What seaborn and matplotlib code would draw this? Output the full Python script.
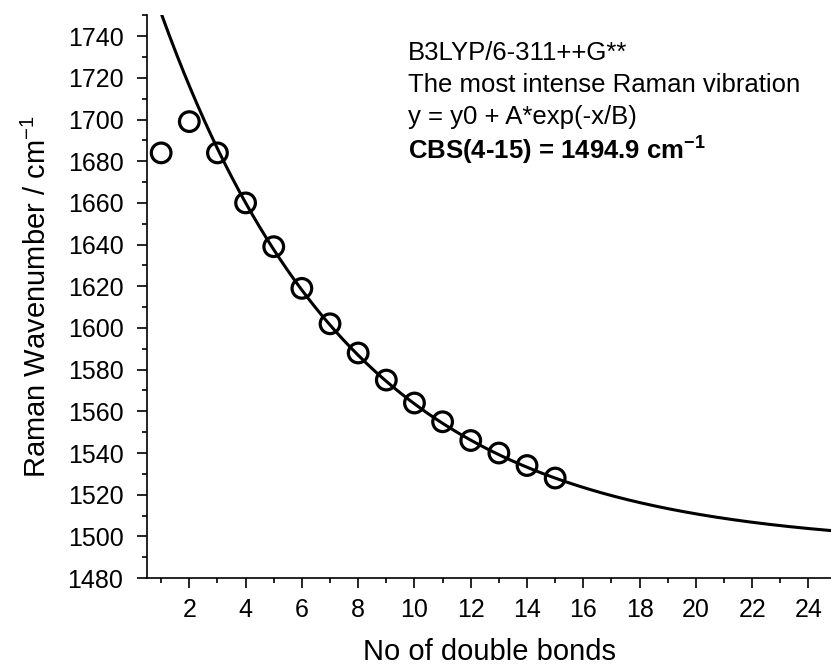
import numpy as np
import pandas as pd
import matplotlib
matplotlib.use("Agg")
import matplotlib.pyplot as plt
import seaborn as sns
from matplotlib.ticker import MultipleLocator

# Data
n_double_bonds = [1, 2, 3, 4, 5, 6, 7, 8, 9, 10, 11, 12, 13, 14, 15]
raman_wavenumber = [1684, 1699, 1684, 1660, 1639, 1619, 1602, 1588, 1575,
                    1564, 1555, 1546, 1540, 1534, 1528]

# Exponential fit parameters (y = y0 + A*exp(-x/B)), fit on points 4-15
fit_y0 = 1494.9
fit_A = 296.4
fit_B = 6.84
fit_x = np.linspace(0.5, 25, 400)
fit_y = fit_y0 + fit_A * np.exp(-fit_x / fit_B)

annot_lines = ["B3LYP/6-311++G**",
               "The most intense Raman vibration",
               "y = y0 + A*exp(-x/B)"]
annot_bold = r"CBS(4-15) = 1494.9 cm$^{\mathregular{-1}}$"

sns.set_theme(style="ticks")
plt.rcParams["font.family"] = ["Liberation Sans", "DejaVu Sans"]
plt.rcParams["mathtext.fontset"] = "custom"
plt.rcParams["mathtext.rm"] = "Liberation Sans"
plt.rcParams["mathtext.bf"] = "Liberation Sans:bold"
plt.rcParams["text.color"] = "black"
plt.rcParams["axes.labelcolor"] = "black"
plt.rcParams["xtick.color"] = "black"
plt.rcParams["ytick.color"] = "black"

fig = plt.figure(figsize=(8.31, 6.66), dpi=100)
ax = fig.add_axes([0.177, 0.132, 0.823, 0.845])

df_pts = pd.DataFrame({"x": n_double_bonds, "y": raman_wavenumber})
df_fit = pd.DataFrame({"x": fit_x, "y": fit_y})

sns.lineplot(data=df_fit, x="x", y="y", ax=ax, color="black", linewidth=2.2,
             zorder=2)
sns.scatterplot(data=df_pts, x="x", y="y", ax=ax, s=200, marker="o",
                facecolor="none", edgecolor="black", linewidth=2.3, zorder=3)

ax.set_xlim(0.5, 24.8)
ax.set_ylim(1480, 1750)
ax.xaxis.set_major_locator(MultipleLocator(2))
ax.xaxis.set_minor_locator(MultipleLocator(1))
ax.yaxis.set_major_locator(MultipleLocator(20))
ax.yaxis.set_minor_locator(MultipleLocator(10))
ax.set_xticks(np.arange(2, 25, 2))
ax.set_yticks(np.arange(1480, 1741, 20))

for side in ["top", "right"]:
    ax.spines[side].set_visible(False)
for side in ["left", "bottom"]:
    ax.spines[side].set_linewidth(1.2)
    ax.spines[side].set_color("black")

ax.tick_params(axis="both", which="major", direction="out", length=7,
               width=1.2, labelsize=18, colors="black", labelcolor="black")
ax.tick_params(axis="y", which="major", pad=10)
ax.tick_params(axis="x", which="major", pad=7)
ax.tick_params(axis="both", which="minor", direction="out", length=3.5,
               width=1.2, colors="black")

ax.set_xlabel("No of double bonds", fontsize=21, labelpad=12, color="black")
ax.set_ylabel(r"Raman Wavenumber / cm$^{\mathregular{-1}}$", fontsize=21,
              labelpad=11, color="black")

ty = 0.9325
for line in annot_lines:
    ax.text(0.381, ty, line, transform=ax.transAxes, fontsize=18.5,
            ha="left", va="center", color="black")
    ty -= 0.0568
ax.text(0.381, ty, annot_bold, transform=ax.transAxes, fontsize=18.5,
        ha="left", va="center", fontweight="bold", color="black")

fig.savefig("out.png", dpi=100)
